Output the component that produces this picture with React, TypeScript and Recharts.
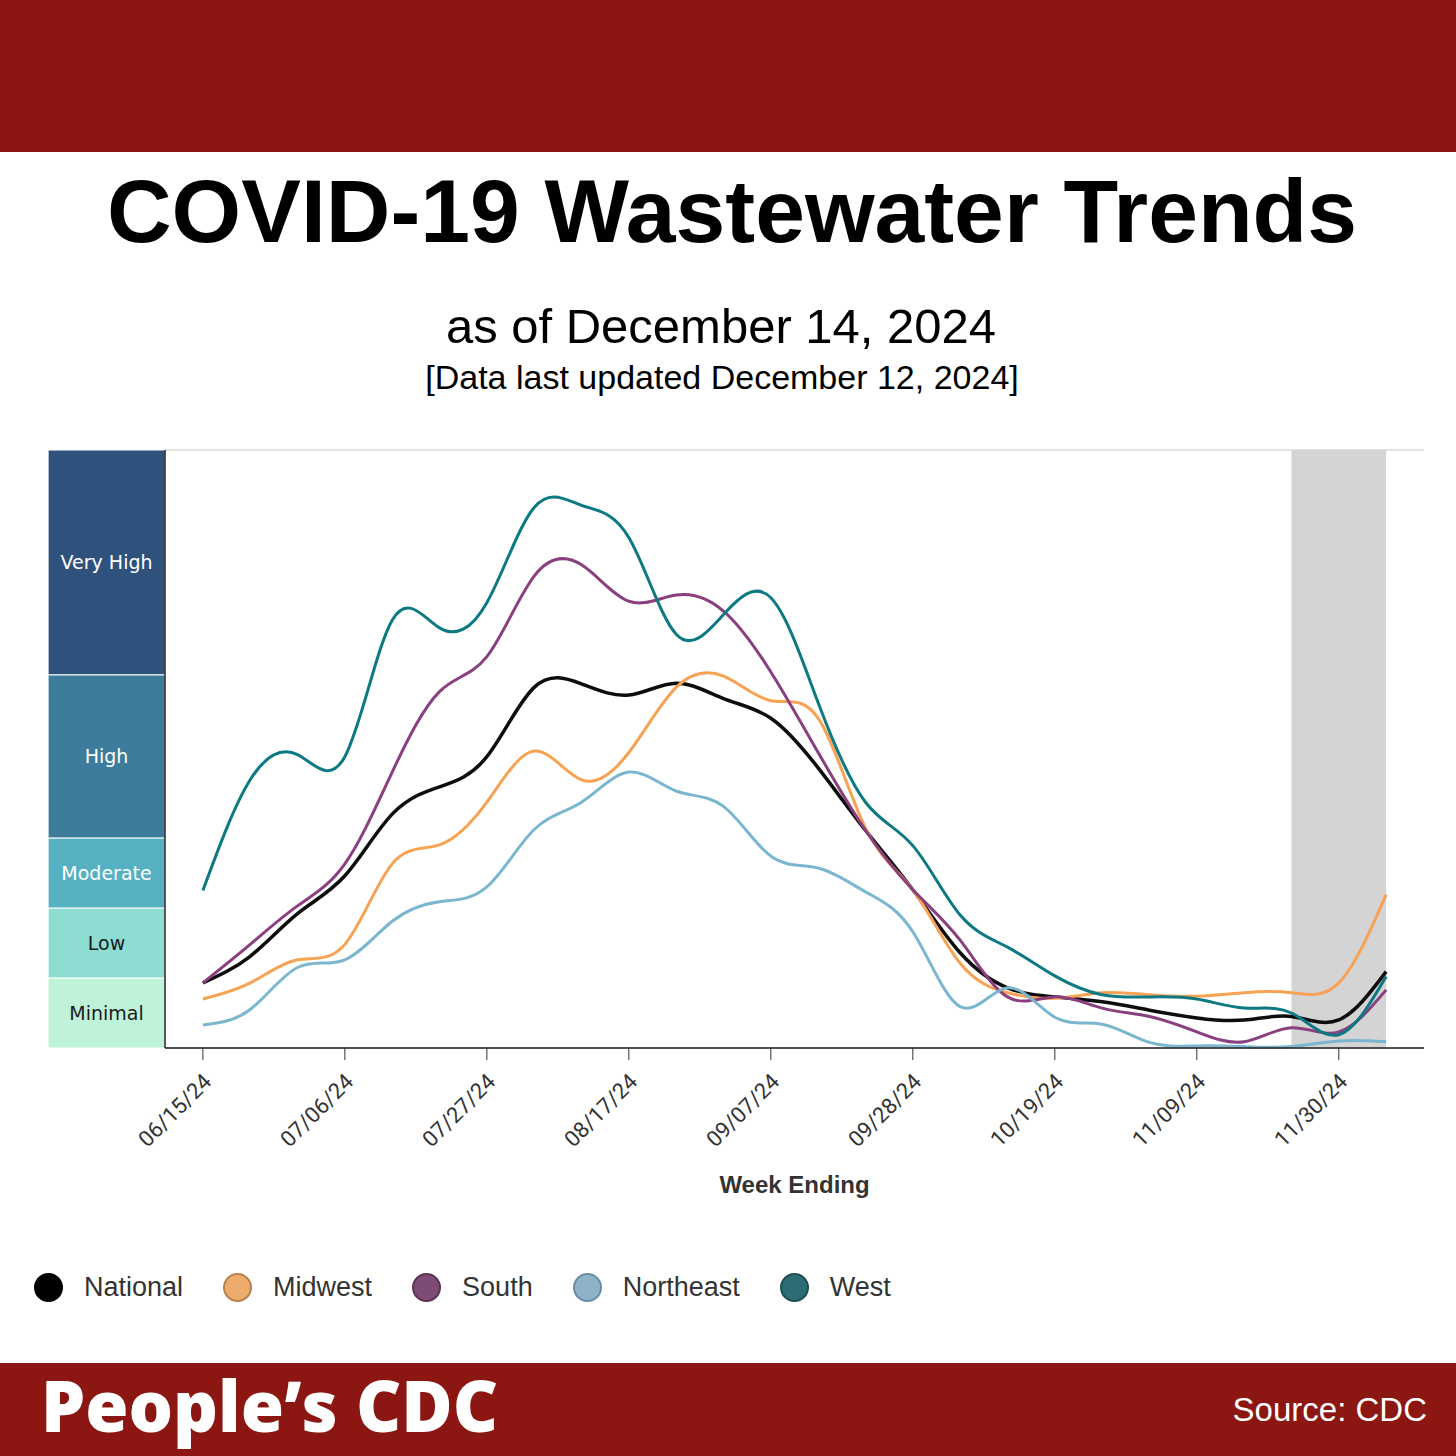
import React from 'react';
import { LineChart, Line, XAxis, YAxis, CartesianGrid, ReferenceArea } from 'recharts';

// week ending dates
const WEEKS = [
  '06/15/24', '06/22/24', '06/29/24', '07/06/24', '07/13/24', '07/20/24', '07/27/24',
  '08/03/24', '08/10/24', '08/17/24', '08/24/24', '08/31/24', '09/07/24', '09/14/24',
  '09/21/24', '09/28/24', '10/05/24', '10/12/24', '10/19/24', '10/26/24', '11/02/24',
  '11/09/24', '11/16/24', '11/23/24', '11/30/24', '12/07/24',
];

// wastewater viral activity, chart units (1 unit = one of the lower level bands)
const NATIONAL = [0.93, 1.31, 1.92, 2.46, 3.34, 3.73, 4.16, 5.15, 5.2, 5.04, 5.21, 4.99, 4.71, 4.0, 3.11, 2.26, 1.36, 0.86, 0.73, 0.66, 0.54, 0.43, 0.4, 0.45, 0.4, 1.09];
const MIDWEST = [0.7, 0.93, 1.26, 1.48, 2.63, 2.9, 3.51, 4.24, 3.83, 4.22, 5.15, 5.31, 4.96, 4.71, 3.14, 2.26, 1.21, 0.79, 0.71, 0.79, 0.76, 0.74, 0.79, 0.79, 0.93, 2.19];
const SOUTH = [0.93, 1.48, 2.03, 2.63, 3.94, 5.09, 5.59, 6.74, 6.9, 6.38, 6.47, 6.24, 5.37, 4.22, 3.11, 2.26, 1.54, 0.73, 0.73, 0.57, 0.45, 0.23, 0.09, 0.29, 0.23, 0.83];
const NORTHEAST = [0.33, 0.55, 1.15, 1.26, 1.81, 2.09, 2.3, 3.12, 3.51, 3.94, 3.67, 3.45, 2.74, 2.57, 2.23, 1.66, 0.59, 0.86, 0.44, 0.34, 0.08, 0.03, 0.02, 0.02, 0.1, 0.09];
const WEST = [2.25, 3.83, 4.19, 4.16, 6.11, 6.0, 6.36, 7.72, 7.75, 7.29, 5.91, 6.19, 6.43, 4.93, 3.51, 2.89, 1.9, 1.44, 1.03, 0.76, 0.73, 0.7, 0.57, 0.5, 0.19, 1.02];

const TICK_WEEKS = [0, 3, 6, 9, 12, 15, 18, 21, 24];

// activity level bands
const LEVEL_NAMES = ['Minimal', 'Low', 'Moderate', 'High', 'Very High'];
const LEVEL_BOUNDS = [0, 1, 2, 3, 5.33, 8.54];
const LEVEL_COLORS = ['#BEF2D9', '#8EDDD2', '#55B0C2', '#3D7D9B', '#2F527C'];
const LEVEL_TEXT = ['#1a1a1a', '#1a1a1a', '#ffffff', '#ffffff', '#ffffff'];

// shaded (incomplete data) weeks
const SHADE_FROM = 23;
const SHADE_TO = 25;

const SERIES = [
  { key: 'national', name: 'National', values: NATIONAL, line: '#0d0d0d', dot: '#000000', border: '#000000' },
  { key: 'midwest', name: 'Midwest', values: MIDWEST, line: '#F8A253', dot: '#EDAB6E', border: '#b9814f' },
  { key: 'south', name: 'South', values: SOUTH, line: '#8A3F7F', dot: '#7E4B75', border: '#5d3456' },
  { key: 'northeast', name: 'Northeast', values: NORTHEAST, line: '#7BB6D0', dot: '#8EB3C8', border: '#6a8ea3' },
  { key: 'west', name: 'West', values: WEST, line: '#0C7983', dot: '#2E6C73', border: '#1f4e54' },
];

const data = WEEKS.map((w, i) => {
  const row: any = { week: i, date: w };
  SERIES.forEach((s) => (row[s.key] = s.values[i]));
  return row;
});

const RED = '#8B1612';
const BAND_LEFT = -3.27;
const X_MIN = -0.8;

function DateTick({ x, y, payload }: any) {
  return (
    <g transform={`translate(${x + 10},${y + 21})`}>
      <text
        textAnchor="end"
        transform="rotate(-45)"
        fontSize={22}
        fill="#333"
        fontFamily="Roboto, sans-serif"
      >
        {WEEKS[payload.value]}
      </text>
    </g>
  );
}

function Legend() {
  return (
    <div
      style={{
        position: 'absolute',
        top: 1272,
        left: 34,
        display: 'flex',
        alignItems: 'center',
        gap: 40,
        fontFamily: '"Liberation Sans", Arial, sans-serif',
        fontSize: 27,
        color: '#333',
      }}
    >
      {SERIES.map((s) => (
        <div key={s.key} style={{ display: 'flex', alignItems: 'center', gap: 21 }}>
          <div
            style={{
              width: 25,
              height: 25,
              borderRadius: '50%',
              background: s.dot,
              border: `2px solid ${s.border}`,
            }}
          />
          <span>{s.name}</span>
        </div>
      ))}
    </div>
  );
}

export default function App() {
  return (
    <div
      style={{
        position: 'absolute',
        left: 0,
        top: 0,
        width: 1456,
        height: 1456,
        background: '#fff',
        overflow: 'hidden',
        fontFamily: '"DejaVu Sans", sans-serif',
      }}
    >
      <div style={{ position: 'absolute', left: 0, top: 0, width: 1456, height: 152, background: RED }} />

      <div
        style={{
          position: 'absolute',
          top: 167,
          left: 0,
          width: 1464,
          textAlign: 'center',
          fontFamily: '"Liberation Sans", Arial, sans-serif',
          fontWeight: 700,
          fontSize: 89.5,
          lineHeight: '89px',
          color: '#000',
        }}
      >
        COVID-19 Wastewater Trends
      </div>
      <div
        style={{
          position: 'absolute',
          top: 302,
          left: 0,
          width: 1442,
          textAlign: 'center',
          fontFamily: '"Liberation Sans", Arial, sans-serif',
          fontSize: 49,
          lineHeight: '49px',
          color: '#000',
        }}
      >
        as of December 14, 2024
      </div>
      <div
        style={{
          position: 'absolute',
          top: 360,
          left: 0,
          width: 1444,
          textAlign: 'center',
          fontFamily: '"Liberation Sans", Arial, sans-serif',
          fontSize: 34,
          lineHeight: '34px',
          color: '#000',
        }}
      >
        [Data last updated December 12, 2024]
      </div>

      <div style={{ position: 'absolute', left: 0, top: 440, width: 1456, height: 758 }}>
        <LineChart
          width={1456}
          height={758}
          data={data}
          margin={{ top: 10, right: 32, bottom: 0, left: 48 }}
        >
          <CartesianGrid vertical={false} stroke="#d8d8d8" strokeWidth={1.5} />
          {LEVEL_NAMES.map((name, i) => (
            <ReferenceArea
              key={name}
              x1={BAND_LEFT}
              x2={X_MIN}
              y1={LEVEL_BOUNDS[i]}
              y2={LEVEL_BOUNDS[i + 1]}
              ifOverflow="visible"
              fill={LEVEL_COLORS[i]}
              fillOpacity={1}
              stroke="#ffffff"
              strokeWidth={1}
              label={{ value: name, position: 'center', fill: LEVEL_TEXT[i], fontSize: 19 }}
            />
          ))}
          <ReferenceArea
            x1={SHADE_FROM}
            x2={SHADE_TO}
            y1={LEVEL_BOUNDS[0]}
            y2={LEVEL_BOUNDS[LEVEL_BOUNDS.length - 1]}
            fill="#d4d4d4"
            fillOpacity={1}
            stroke="none"
          />
          <XAxis
            type="number"
            dataKey="week"
            domain={[X_MIN, 25.8]}
            ticks={TICK_WEEKS}
            interval={0}
            height={150}
            tickSize={12}
            tick={<DateTick />}
            tickLine={{ stroke: '#333' }}
            axisLine={{ stroke: '#222', strokeWidth: 1.5 }}
            label={{
              value: 'Week Ending',
              position: 'insideBottom',
              offset: 5,
              fill: '#333',
              fontSize: 24,
              fontWeight: 700,
              fontFamily: '"Liberation Sans", Arial, sans-serif',
            }}
          />
          <YAxis
            type="number"
            domain={[LEVEL_BOUNDS[0], LEVEL_BOUNDS[LEVEL_BOUNDS.length - 1]]}
            ticks={LEVEL_BOUNDS}
            width={117}
            tick={false}
            tickLine={false}
            axisLine={{ stroke: '#222', strokeWidth: 1.5 }}
          />
          {SERIES.map((s) => (
            <Line
              key={s.key}
              dataKey={s.key}
              name={s.name}
              type="natural"
              stroke={s.line}
              strokeWidth={s.key === 'national' ? 3.5 : 3}
              dot={false}
              activeDot={false}
              isAnimationActive={false}
            />
          ))}
        </LineChart>
      </div>

      <Legend />

      <div style={{ position: 'absolute', left: 0, top: 1363, width: 1456, height: 93, background: RED }} />
      <div
        style={{
          position: 'absolute',
          left: 41,
          top: 1371,
          fontFamily: '"Open Sans", sans-serif',
          fontWeight: 800,
          fontSize: 70,
          lineHeight: '68px',
          color: '#fff',
        }}
      >
        People’s CDC
      </div>
      <div
        style={{
          position: 'absolute',
          right: 29,
          top: 1393,
          fontFamily: '"Liberation Sans", Arial, sans-serif',
          fontSize: 33,
          lineHeight: '33px',
          color: '#fff',
        }}
      >
        Source: CDC
      </div>
    </div>
  );
}
